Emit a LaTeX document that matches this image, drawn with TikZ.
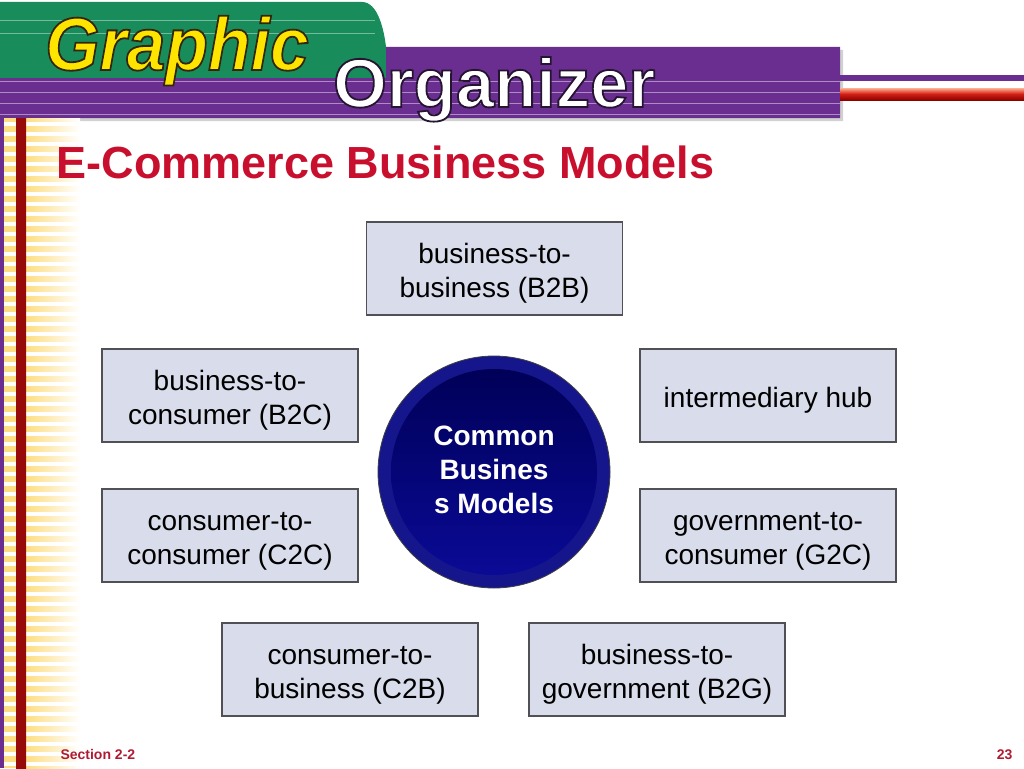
\documentclass[tikz,border=0pt]{standalone}
\usepackage{fontspec}
\setmainfont{Liberation Sans}

\definecolor{tabgreen}{RGB}{24,140,90}
\definecolor{bandpurple}{RGB}{106,46,145}
\definecolor{titlered}{RGB}{200,16,46}
\definecolor{footred}{RGB}{176,26,50}
\definecolor{stripeyellow}{RGB}{253,222,130}
\definecolor{boxfill}{RGB}{217,221,235}
\definecolor{boxline}{RGB}{80,80,85}
\definecolor{hubrim}{RGB}{22,22,140}
\definecolor{hubtop}{RGB}{0,0,88}
\definecolor{hubbottom}{RGB}{10,10,150}

% Umriss fuer die Kopfschrift
\newcommand{\outlined}[2]{\special{pdf:literal direct 2 Tr 1.8 w #1 RG}#2\special{pdf:literal direct 0 Tr}}
% erste Zeile etwas tiefer
\newcommand{\firstline}{\rule{0pt}{30.5pt}}

\tikzset{
  modelbox/.style={draw=boxline, fill=boxfill, line width=1.2pt,
    minimum width=256pt, minimum height=93pt, inner sep=0pt, align=center,
    font=\fontsize{28}{34}\selectfont},
}

\begin{document}
\begin{tikzpicture}[x=1pt,y=-1pt]
\useasboundingbox (0,0) rectangle (1024,768);
\fill[white] (0,0) rectangle (1024,768);

% Kopfband
\fill[black!18] (0,81) -- (389,81) -- (389,50) -- (843,50) -- (843,121) -- (0,121) -- cycle;
\fill[tabgreen] (0,2) -- (362,2) .. controls (378,2) and (384,30) .. (386,47) -- (386,78) -- (0,78) -- cycle;
\fill[bandpurple] (0,78) -- (386,78) -- (386,47) -- (840,47) -- (840,118) -- (0,118) -- cycle;
\foreach \y in {20,33} \draw[tabgreen!60!white,line width=0.8pt] (0,\y) -- (375,\y);
\foreach \y in {81,92,103,114} \draw[bandpurple!55!white,line width=0.8pt] (0,\y) -- (840,\y);
\fill[bandpurple] (840,75) rectangle (1024,81);
\shade[top color={rgb,255:red,255;green,175;blue,145}, bottom color={rgb,255:red,140;green,0;blue,0}, middle color={rgb,255:red,210;green,30;blue,20}] (840,88) rectangle (1024,100);

\node[anchor=base west, inner sep=0pt, text={rgb,255:red,255;green,228;blue,0}, font=\fontsize{75}{75}\selectfont\bfseries\itshape] (graphic) at (45,70) {\scalebox{0.93}[1]{\outlined{0.2 0.15 0.05}{Graphic}}};
\node[anchor=base west, inner sep=0pt, text=white, font=\fontsize{69}{69}\selectfont\bfseries] (organizer) at (333,107) {\outlined{0.15 0.08 0.2}{Organizer}};

% linker Streifen
\fill[stripeyellow] (4,118) rectangle (16,768);
\shade[left color=stripeyellow, right color=white] (26,118) rectangle (80,768);
\foreach \y in {122,132,...,762} \fill[white] (4,\y) rectangle (80,\y+4);
\fill[bandpurple] (0,118) rectangle (4,768);
\shade[left color={rgb,255:red,150;green,10;blue,10}, middle color={rgb,255:red,235;green,50;blue,30}, right color={rgb,255:red,150;green,10;blue,10}] (16,118) rectangle (26,768);

% Titel
\node[anchor=base west, text=titlered, font=\fontsize{45}{45}\selectfont\bfseries] (title) at (53,178) {E-Commerce Business Models};

% Kreis in der Mitte
\fill[hubrim] (494,472) circle (116);
\draw[black!75,line width=0.8pt] (494,472) circle (116);
\shade[top color=hubtop, bottom color=hubbottom] (494,472) circle (103);
\node[text=white, align=center, font=\fontsize{28}{34}\selectfont\bfseries] (hub) at (494,470) {Common\\Busines\\s Models};

% Modelle
\node[modelbox] (btob) at (494.5,268.5) {\firstline business-to-\\business (B2B)};
\node[modelbox] (btoc) at (230,395.5) {\firstline business-to-\\consumer (B2C)};
\node[modelbox] (inthub) at (768,395.5) {\firstline intermediary hub};
\node[modelbox] (ctoc) at (230,535.5) {\firstline consumer-to-\\consumer (C2C)};
\node[modelbox] (gtoc) at (768,535.5) {\firstline government-to-\\consumer (G2C)};
\node[modelbox] (ctob) at (350,669.5) {\firstline consumer-to-\\business (C2B)};
\node[modelbox] (btog) at (657,669.5) {\firstline business-to-\\government (B2G)};

% Fusszeile
\node[anchor=base west, text=footred, font=\fontsize{14}{14}\selectfont\bfseries] (section) at (57,759) {Section 2-2};
\node[anchor=base east, text=footred, font=\fontsize{14}{14}\selectfont\bfseries] (page) at (1016,759) {23};

\end{tikzpicture}
\end{document}
